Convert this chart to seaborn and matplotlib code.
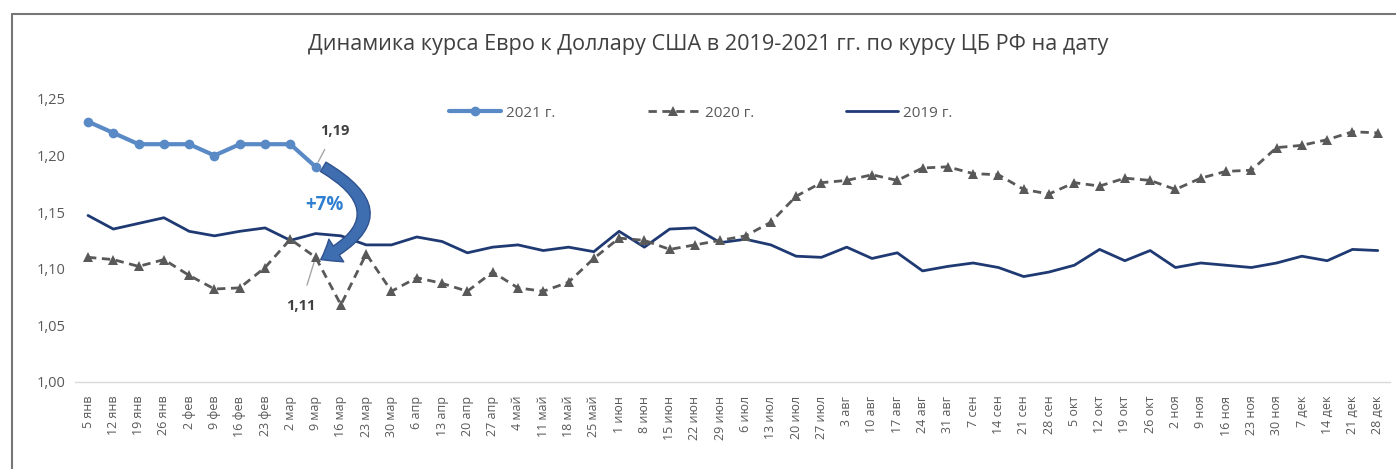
import pandas as pd
import seaborn as sns
import matplotlib.pyplot as plt
from matplotlib.lines import Line2D
from matplotlib.ticker import FuncFormatter

weeks = ['5 янв', '12 янв', '19 янв', '26 янв', '2 фев', '9 фев', '16 фев', '23 фев',
         '2 мар', '9 мар', '16 мар', '23 мар', '30 мар', '6 апр', '13 апр', '20 апр',
         '27 апр', '4 май', '11 май', '18 май', '25 май', '1 июн', '8 июн', '15 июн',
         '22 июн', '29 июн', '6 июл', '13 июл', '20 июл', '27 июл', '3 авг', '10 авг',
         '17 авг', '24 авг', '31 авг', '7 сен', '14 сен', '21 сен', '28 сен', '5 окт',
         '12 окт', '19 окт', '26 окт', '2 ноя', '9 ноя', '16 ноя', '23 ноя', '30 ноя',
         '7 дек', '14 дек', '21 дек', '28 дек']

rate_2021 = [1.23, 1.22, 1.21, 1.21, 1.21, 1.20, 1.21, 1.21, 1.21, 1.19]

rate_2020 = [1.110, 1.108, 1.102, 1.108, 1.094, 1.082, 1.083, 1.101, 1.126, 1.110,
             1.068, 1.113, 1.080, 1.092, 1.087, 1.080, 1.097, 1.083, 1.080, 1.088,
             1.109, 1.127, 1.125, 1.117, 1.121, 1.125, 1.129, 1.141, 1.164, 1.176,
             1.178, 1.183, 1.178, 1.189, 1.190, 1.184, 1.183, 1.170, 1.166, 1.176,
             1.173, 1.180, 1.178, 1.170, 1.180, 1.186, 1.187, 1.207, 1.209, 1.214,
             1.221, 1.220]

rate_2019 = [1.147, 1.135, 1.140, 1.145, 1.133, 1.129, 1.133, 1.136, 1.125, 1.131,
             1.129, 1.121, 1.121, 1.128, 1.124, 1.114, 1.119, 1.121, 1.116, 1.119,
             1.115, 1.133, 1.119, 1.135, 1.136, 1.123, 1.126, 1.121, 1.111, 1.110,
             1.119, 1.109, 1.114, 1.098, 1.102, 1.105, 1.101, 1.093, 1.097, 1.103,
             1.117, 1.107, 1.116, 1.101, 1.105, 1.103, 1.101, 1.105, 1.111, 1.107,
             1.117, 1.116]

df21 = pd.DataFrame({'x': range(len(rate_2021)), 'rate': rate_2021})
df20 = pd.DataFrame({'x': range(len(rate_2020)), 'rate': rate_2020})
df19 = pd.DataFrame({'x': range(len(rate_2019)), 'rate': rate_2019})

sns.set_style('white')
plt.rcParams['font.family'] = ['Open Sans', 'DejaVu Sans']

txt = '#595959'
fig = plt.figure(figsize=(13.96, 4.69), dpi=100)
ax = fig.add_axes([0.054, 0.186, 0.942, 0.603])

sns.lineplot(data=df21, x='x', y='rate', ax=ax, color='#5a8ac6', lw=3,
             marker='o', markersize=7, markeredgewidth=0, label='2021 г.', zorder=5)
sns.lineplot(data=df20, x='x', y='rate', ax=ax, color='#595959', lw=2,
             linestyle=(0, (3, 2)), marker='^', markersize=7, markeredgewidth=0,
             label='2020 г.', zorder=4)
sns.lineplot(data=df19, x='x', y='rate', ax=ax, color='#1f3a73', lw=2,
             label='2019 г.', zorder=3)

ax.set_xlim(-0.5, len(weeks) - 0.5)
ax.set_ylim(1.0, 1.25)
ax.set_xticks(range(len(weeks)))
ax.set_xticklabels(weeks, rotation=90, fontsize=9, color=txt)
ax.set_yticks([1.00, 1.05, 1.10, 1.15, 1.20, 1.25])
ax.yaxis.set_major_formatter(FuncFormatter(lambda v, p: f'{v:.2f}'.replace('.', ',')))
ax.tick_params(axis='y', labelsize=10.5, labelcolor=txt, length=0, pad=7)
ax.tick_params(axis='x', length=0, pad=10)
ax.set_xlabel('')
ax.set_ylabel('')
for s in ['top', 'right', 'left']:
    ax.spines[s].set_visible(False)
ax.spines['bottom'].set_color('#d9d9d9')
ax.spines['bottom'].set_linewidth(1)

ax.legend(loc='center', bbox_to_anchor=(0.502, 0.759), bbox_transform=fig.transFigure,
          ncol=3, frameon=False, handlelength=3.4, handletextpad=0.35,
          columnspacing=6.0, fontsize=11, labelcolor=txt)

fig.text(0.507, 0.905, 'Динамика курса Евро к Доллару США в 2019-2021 гг. по курсу ЦБ РФ на дату',
         ha='center', va='center', fontsize=15.6, color='#404040')

# labels and the change arrow
ax.annotate('1,19', xy=(9, 1.19), xytext=(9.75, 1.222), fontsize=10.5, fontweight='bold',
            color='#404040', ha='center', va='center',
            arrowprops=dict(arrowstyle='-', color='#a6a6a6', lw=1, shrinkA=7, shrinkB=4))
ax.annotate('1,11', xy=(9, 1.11), xytext=(8.4, 1.067), fontsize=10.5, fontweight='bold',
            color='#404040', ha='center', va='center',
            arrowprops=dict(arrowstyle='-', color='#a6a6a6', lw=1, shrinkA=8, shrinkB=4))
ax.annotate('', xy=(9.2, 1.108), xytext=(9.3, 1.19),
            arrowprops=dict(arrowstyle='simple,head_length=1.0,head_width=1.5,tail_width=0.6',
                            connectionstyle='arc3,rad=-0.9', mutation_scale=13,
                            shrinkA=0, shrinkB=0,
                            facecolor='#3e6db0', edgecolor='#2f528f', lw=1),
            zorder=6)
ax.text(9.35, 1.156, '+7%', fontsize=13.5, fontweight='bold', color='#2e7fd0',
        ha='center', va='center')

# chart frame
fig.add_artist(Line2D([12 / 1396, 12 / 1396], [0, 1 - 14 / 469], color='#767676', lw=1.5))
fig.add_artist(Line2D([12 / 1396, 1], [1 - 14 / 469, 1 - 14 / 469], color='#767676', lw=1.5))

plt.savefig('out.png', dpi=100)
